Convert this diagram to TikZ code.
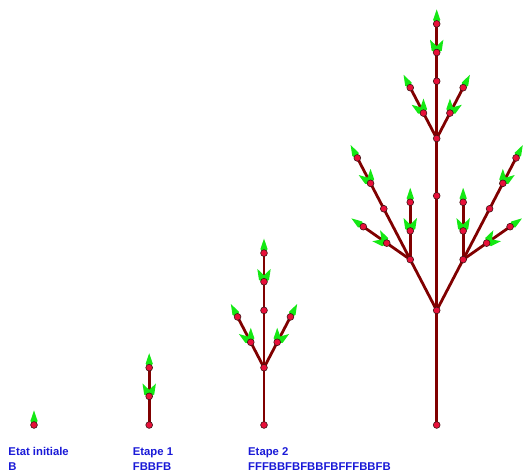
\documentclass[tikz,border=0pt]{standalone}
\usepackage{fontspec}
\setmainfont{Liberation Sans}
\usetikzlibrary{calc}
\pgfdeclarelayer{bg}
\pgfdeclarelayer{mid}
\pgfsetlayers{bg,mid,main}
\definecolor{branchcol}{RGB}{128,0,0}
\definecolor{dotfill}{RGB}{232,16,58}
\definecolor{dotline}{RGB}{60,20,20}
\definecolor{budcol}{RGB}{20,232,20}
\definecolor{txtblue}{RGB}{25,25,215}
\newcommand\bud[2]{\fill[budcol, shift={(#1)}, rotate=#2] (-1,0) -- (4,-3.6) -- (14.5,0) -- (4,3.6) -- cycle;}
\begin{document}
\begin{tikzpicture}[x=1pt,y=1pt,
  dot/.style={circle, fill=dotfill, draw=dotline, line width=0.6pt, inner sep=0pt, minimum size=6.8pt},
  branch/.style={draw=branchcol, line width=2.8pt},
  lbl/.style={text=txtblue, font=\fontsize{11.3}{13}\selectfont\bfseries, anchor=base west, inner sep=0pt}]
\useasboundingbox (0,0) rectangle (525,473);
\def\u{28.65}
\def\uu{57.3}
\def\uuuu{114.6}
\def\L{117.5}
\def\R{62.5}
\def\LL{145}
\def\RR{35}
\def\LLL{172.5}
\def\RRR{7.5}
% stage 0
\node[dot] (s0) at (34,48) {};
% stage 1
\node[dot] (a0) at (149.2,48) {};
\node[dot] (a1) at ($(a0)+(90:\u)$) {};
\node[dot] (a2) at ($(a1)+(90:\u)$) {};
% stage 2
\node[dot] (b0) at (264,48) {};
\node[dot] (bq) at ($(b0)+(90:\uu)$) {};
\node[dot] (bl1) at ($(bq)+(\L:\u)$) {};
\node[dot] (bl2) at ($(bl1)+(\L:\u)$) {};
\node[dot] (br1) at ($(bq)+(\R:\u)$) {};
\node[dot] (br2) at ($(br1)+(\R:\u)$) {};
\node[dot] (bm) at ($(bq)+(90:\uu)$) {};
\node[dot] (bc1) at ($(bm)+(90:\u)$) {};
\node[dot] (bc2) at ($(bc1)+(90:\u)$) {};
% stage 3
\node[dot] (c0) at (436.7,48) {};
\node[dot] (cq) at ($(c0)+(90:\uuuu)$) {};
\node[dot] (lq) at ($(cq)+(\L:\uu)$) {};
\node[dot] (ll1) at ($(lq)+(\LL:\u)$) {};
\node[dot] (ll2) at ($(ll1)+(\LL:\u)$) {};
\node[dot] (lv1) at ($(lq)+(90:\u)$) {};
\node[dot] (lv2) at ($(lv1)+(90:\u)$) {};
\node[dot] (lm) at ($(lq)+(\L:\uu)$) {};
\node[dot] (lc1) at ($(lm)+(\L:\u)$) {};
\node[dot] (lc2) at ($(lc1)+(\L:\u)$) {};
\node[dot] (rq) at ($(cq)+(\R:\uu)$) {};
\node[dot] (rr1) at ($(rq)+(\RR:\u)$) {};
\node[dot] (rr2) at ($(rr1)+(\RR:\u)$) {};
\node[dot] (rv1) at ($(rq)+(90:\u)$) {};
\node[dot] (rv2) at ($(rv1)+(90:\u)$) {};
\node[dot] (rm) at ($(rq)+(\R:\uu)$) {};
\node[dot] (rc1) at ($(rm)+(\R:\u)$) {};
\node[dot] (rc2) at ($(rc1)+(\R:\u)$) {};
\node[dot] (cm) at ($(cq)+(90:\uuuu)$) {};
\node[dot] (mq) at ($(cm)+(90:\uu)$) {};
\node[dot] (ml1) at ($(mq)+(\L:\u)$) {};
\node[dot] (ml2) at ($(ml1)+(\L:\u)$) {};
\node[dot] (mr1) at ($(mq)+(\R:\u)$) {};
\node[dot] (mr2) at ($(mr1)+(\R:\u)$) {};
\node[dot] (mm) at ($(mq)+(90:\uu)$) {};
\node[dot] (mc1) at ($(mm)+(90:\u)$) {};
\node[dot] (mc2) at ($(mc1)+(90:\u)$) {};
% branches
\begin{pgfonlayer}{bg}
\draw[branch] (a0.center) -- (a1.center) -- (a2.center);
\draw[branch] (b0.center) -- (bq.center) -- (bm.center) -- (bc1.center) -- (bc2.center);
\draw[branch] (bq.center) -- (bl1.center) -- (bl2.center);
\draw[branch] (bq.center) -- (br1.center) -- (br2.center);
\draw[branch] (c0.center) -- (cq.center) -- (cm.center) -- (mq.center) -- (mm.center) -- (mc1.center) -- (mc2.center);
\draw[branch] (mq.center) -- (ml1.center) -- (ml2.center);
\draw[branch] (mq.center) -- (mr1.center) -- (mr2.center);
\draw[branch] (cq.center) -- (lq.center) -- (lm.center) -- (lc1.center) -- (lc2.center);
\draw[branch] (lq.center) -- (ll1.center) -- (ll2.center);
\draw[branch] (lq.center) -- (lv1.center) -- (lv2.center);
\draw[branch] (cq.center) -- (rq.center) -- (rm.center) -- (rc1.center) -- (rc2.center);
\draw[branch] (rq.center) -- (rr1.center) -- (rr2.center);
\draw[branch] (rq.center) -- (rv1.center) -- (rv2.center);
\end{pgfonlayer}
% buds
\begin{pgfonlayer}{mid}
\bud{s0}{90}
\bud{a1}{\L}\bud{a1}{\R}\bud{a2}{90}
\bud{bl1}{\LL}\bud{bl1}{90}\bud{bl2}{\L}
\bud{br1}{90}\bud{br1}{\RR}\bud{br2}{\R}
\bud{bc1}{\L}\bud{bc1}{\R}\bud{bc2}{90}
\bud{ll1}{\LLL}\bud{ll1}{\L}\bud{ll2}{\LL}
\bud{lv1}{\L}\bud{lv1}{\R}\bud{lv2}{90}
\bud{lc1}{\LL}\bud{lc1}{90}\bud{lc2}{\L}
\bud{rr1}{\R}\bud{rr1}{\RRR}\bud{rr2}{\RR}
\bud{rv1}{\L}\bud{rv1}{\R}\bud{rv2}{90}
\bud{rc1}{90}\bud{rc1}{\RR}\bud{rc2}{\R}
\bud{ml1}{\LL}\bud{ml1}{90}\bud{ml2}{\L}
\bud{mr1}{90}\bud{mr1}{\RR}\bud{mr2}{\R}
\bud{mc1}{\L}\bud{mc1}{\R}\bud{mc2}{90}
\end{pgfonlayer}
% labels
\node[lbl] (t0) at (8.3,17) {Etat initiale};
\node[lbl] (w0) at (8.3,2.5) {B};
\node[lbl] (t1) at (132.7,17) {Etape 1};
\node[lbl] (w1) at (132.7,2.5) {FBBFB};
\node[lbl] (t2) at (248,17) {Etape 2};
\node[lbl] (w2) at (248,2.5) {FFFBBFBFBBFBFFFBBFB};
\end{tikzpicture}
\end{document}
